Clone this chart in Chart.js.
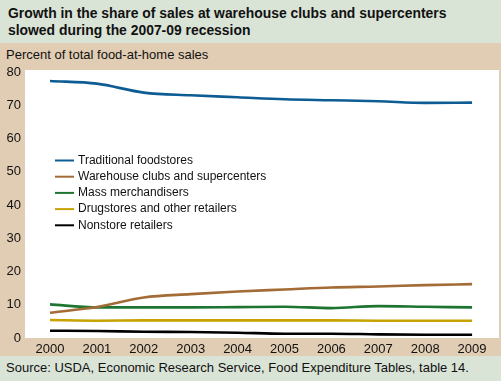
<!DOCTYPE html>
<html>
<head>
<meta charset="utf-8">
<script src="https://cdn.jsdelivr.net/npm/chart.js@4/dist/chart.umd.min.js"></script>
<style>
  body { margin: 0; font-family: "Liberation Sans", Arial, sans-serif; }
  #wrap { position: relative; width: 501px; height: 381px; background: #e1cdb3; overflow: hidden; }
  #top { position: absolute; left: 0; top: 0; width: 501px; height: 43px; background: #d9e3d6; }
  #title { position: absolute; left: 8px; top: 5px; font-weight: bold; font-size: 13.9px; line-height: 17px; color: #111; }
  #ylab { position: absolute; left: 6px; top: 47px; font-size: 13px; color: #111; }
  #bot { position: absolute; left: 0; top: 356px; width: 501px; height: 25px; background: #d9e3d6; }
  #source { position: absolute; left: 6px; top: 360px; font-size: 13px; color: #111; }
  canvas { position: absolute; left: 0; top: 0; }
</style>
</head>
<body>
<div id="wrap">
  <div id="top"></div>
  <div id="title">Growth in the share of sales at warehouse clubs and supercenters<br>slowed during the 2007-09 recession</div>
  <div id="ylab">Percent of total food-at-home sales</div>
  <div id="bot"></div>
  <div id="source">Source: USDA, Economic Research Service, Food Expenditure Tables, table 14.</div>
  <canvas id="chart" width="501" height="381"></canvas>
</div>
<script>
  const years = [2000, 2001, 2002, 2003, 2004, 2005, 2006, 2007, 2008, 2009];
  const traditional = [77.3, 76.5, 73.8, 73.0, 72.4, 71.8, 71.5, 71.2, 70.7, 70.8];
  const warehouse = [7.6, 9.3, 12.2, 13.2, 14.0, 14.6, 15.2, 15.5, 15.9, 16.2];
  const massMerch = [10.1, 9.2, 9.2, 9.2, 9.3, 9.4, 9.0, 9.6, 9.4, 9.2];
  const drugstores = [5.4, 5.2, 5.3, 5.3, 5.3, 5.3, 5.3, 5.2, 5.2, 5.2];
  const nonstore = [2.2, 2.1, 1.9, 1.8, 1.6, 1.3, 1.3, 1.1, 1.0, 1.0];
  const yTicks = [0, 10, 20, 30, 40, 50, 60, 70, 80];

  const series = [
    { label: 'Traditional foodstores', data: traditional, color: '#0e5c94' },
    { label: 'Warehouse clubs and supercenters', data: warehouse, color: '#a36b35' },
    { label: 'Mass merchandisers', data: massMerch, color: '#1e7431' },
    { label: 'Drugstores and other retailers', data: drugstores, color: '#c8a200' },
    { label: 'Nonstore retailers', data: nonstore, color: '#000000' }
  ];

  // white plot background + hand-drawn legend inside the plot
  const plotBg = {
    id: 'plotBg',
    beforeDraw(chart) {
      const { ctx, chartArea: a } = chart;
      ctx.save();
      ctx.fillStyle = '#ffffff';
      ctx.fillRect(a.left, a.top - 2, 499 - a.left, a.bottom - a.top + 2);
      ctx.restore();
    },
    afterDraw(chart) {
      const ctx = chart.ctx;
      ctx.save();
      ctx.font = '12px "Liberation Sans", Arial, sans-serif';
      ctx.textBaseline = 'middle';
      series.forEach((s, i) => {
        const y = 160.5 + i * 16.2;
        ctx.strokeStyle = s.color;
        ctx.lineWidth = 2;
        ctx.beginPath();
        ctx.moveTo(55, y);
        ctx.lineTo(74, y);
        ctx.stroke();
        ctx.fillStyle = '#111';
        ctx.fillText(s.label, 78, y);
      });
      ctx.restore();
    }
  };

  new Chart(document.getElementById('chart').getContext('2d'), {
    type: 'line',
    data: {
      datasets: series.map(s => ({
        label: s.label,
        data: years.map((yr, i) => ({ x: yr, y: s.data[i] })),
        borderColor: s.color,
        borderWidth: 2.6,
        pointRadius: 0,
        tension: 0.3,
        cubicInterpolationMode: 'monotone',
        fill: false
      }))
    },
    options: {
      responsive: false,
      animation: false,
      layout: { padding: { top: 72, right: 2, left: 0, bottom: 0 } },
      plugins: { legend: { display: false }, tooltip: { enabled: false } },
      scales: {
        x: {
          type: 'linear',
          min: 1999.467,
          max: 2009.574,
          afterBuildTicks: s => { s.ticks = years.map(v => ({ value: v })); },
          afterFit: s => { s.height = 43; },
          grid: { display: false, drawTicks: false },
          border: { display: false },
          ticks: {
            padding: 4,
            color: '#111',
            font: { size: 13, family: '"Liberation Sans", Arial, sans-serif' },
            callback: v => String(v),
            maxRotation: 0,
            autoSkip: false
          }
        },
        y: {
          min: 0,
          max: 80,
          afterBuildTicks: s => { s.ticks = yTicks.map(v => ({ value: v })); },
          afterFit: s => { s.width = 25; },
          grid: { display: false, drawTicks: false },
          border: { display: false },
          ticks: {
            padding: 4,
            color: '#111',
            font: { size: 13, family: '"Liberation Sans", Arial, sans-serif' }
          }
        }
      }
    },
    plugins: [plotBg]
  });
</script>
</body>
</html>
